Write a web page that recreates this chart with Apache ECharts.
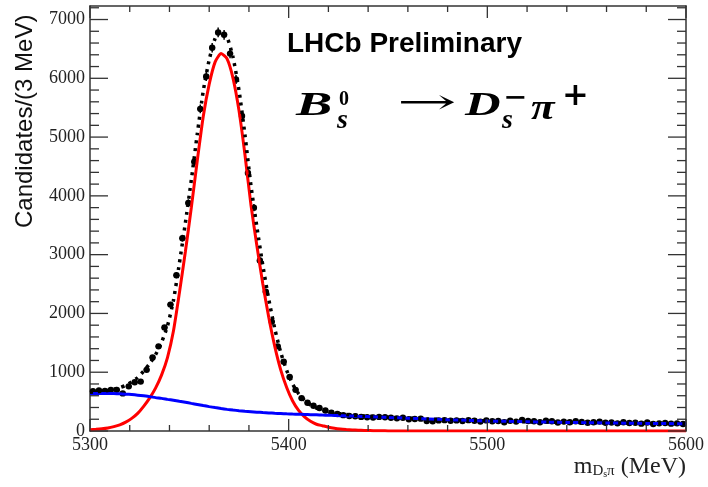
<!DOCTYPE html>
<html>
<head>
<meta charset="utf-8">
<script src="https://cdn.jsdelivr.net/npm/echarts@6/dist/echarts.min.js"></script>
<style>
  html, body { margin: 0; padding: 0; background: #fff; }
  #chart { width: 708px; height: 487px; }
</style>
</head>
<body>
<div id="chart"></div>
<script>
// histogram: 3 MeV bins from 5300 to 5600
var binLow = 5300;
var binWidth = 3;
var counts = [
  675, 690, 680, 700, 700, 640, 760, 830, 840, 1040, 1250, 1440, 1760, 2150, 2650,
  3280, 3880, 4580, 5480, 6030, 6520, 6780, 6740, 6420, 5980, 5360, 4390, 3800,
  2900, 2370, 1860, 1440, 1180, 920, 700, 560, 480, 430, 390, 350, 310, 290, 270, 255, 250, 240, 235, 230,
  240, 235, 225, 215, 225, 200, 205, 210, 170, 165, 180, 185, 175, 180, 170, 185, 175, 160, 180, 165,
  170, 150, 175, 160, 190, 170, 165, 150, 175, 165, 145, 160, 150, 165, 155, 140, 150, 160, 140, 145,
  130, 150, 135, 140, 125, 145, 120, 130, 135, 125, 130, 120
];

// fit curves
var fitX = [
  5300, 5303, 5306, 5309, 5312, 5315, 5318, 5321, 5324, 5327,
  5330, 5333, 5336, 5339, 5342, 5345, 5348, 5351, 5354, 5357,
  5360, 5363, 5366, 5369, 5372, 5375, 5378, 5381, 5384, 5387,
  5390, 5393, 5396, 5399, 5402, 5405, 5408, 5411, 5414, 5417,
  5420, 5423, 5426, 5429, 5432, 5435, 5438, 5441, 5444, 5447,
  5450,
  5460, 5470, 5480, 5490, 5500, 5510, 5520, 5530, 5540, 5550, 5560, 5570, 5580, 5590, 5600
];
var signalFit = [
  20, 28, 38, 52, 75, 105, 150, 215, 300, 420,
  560, 730, 950, 1250, 1700, 2350, 3050, 3800, 4600, 5350,
  5900, 6280, 6420, 6330, 6000, 5450, 4700, 3850, 3150, 2500,
  1930, 1440, 1040, 740, 510, 350, 240, 165, 115, 90,
  65, 47, 34, 25, 18, 13, 9, 7, 5, 3,
  2,
  1, 0, 0, 0, 0, 0, 0, 0, 0, 0, 0, 0, 0, 0, 0
];
var bkgFit = [
  640, 640, 640, 638, 636, 632, 627, 620, 610, 598,
  585, 568, 555, 538, 522, 505, 488, 470, 452, 433,
  415, 398, 382, 368, 356, 346, 337, 329, 321, 314,
  308, 302, 297, 292, 288, 285, 281, 278, 275, 271,
  268, 264, 261, 257, 254, 250, 247, 243, 239, 235,
  231,
  218, 205, 192, 181, 172, 164, 157, 151, 146, 141, 137, 133, 129, 126, 123
];
var totalFit = [
  660, 668, 678, 690, 711, 737, 777, 835, 910, 1018,
  1145, 1298, 1505, 1788, 2222, 2855, 3538, 4270, 5052, 5783,
  6315, 6678, 6802, 6698, 6356, 5796, 5037, 4179, 3471, 2814,
  2238, 1742, 1337, 1032, 798, 635, 521, 443, 390, 361,
  333, 311, 295, 282, 272, 263, 256, 250, 244, 238,
  233,
  219, 205, 192, 181, 172, 164, 157, 151, 146, 141, 137, 133, 129, 126, 123
];

var xMin = 5300, xMax = 5600, xMajor = 100, xMinor = 20;
var yMin = 0, yMax = 7230, yMajor = 1000, yMinor = 200;

var serif = '"Liberation Serif", "Times New Roman", serif';
var sans = '"Liberation Sans", Arial, sans-serif';
var axisColor = '#333';

function pairs(xs, ys) {
  return xs.map(function (x, i) { return [x, ys[i]]; });
}

var points = counts.map(function (n, i) {
  return [binLow + binWidth * (i + 0.5), n, Math.sqrt(n)];
});

// tick positions: [value, length in px]
var xTicks = [], yTicks = [];
for (var v = xMin; v <= xMax; v += xMinor) xTicks.push([v, v % xMajor === 0 ? 12 : 6]);
for (var w = yMin; w <= yMax; w += yMinor) yTicks.push([w, w % yMajor === 0 ? 18 : 9]);

function renderPoint(params, api) {
  var x = api.value(0), y = api.value(1), e = api.value(2);
  var c = api.coord([x, y]);
  var top = api.coord([x, y + e]);
  var bot = api.coord([x, y - e]);
  var l = api.coord([x - binWidth / 2, y]);
  var r = api.coord([x + binWidth / 2, y]);
  return {
    type: 'group',
    children: [
      { type: 'line', shape: { x1: c[0], y1: top[1], x2: c[0], y2: bot[1] }, style: { stroke: '#000', lineWidth: 1.5 } },
      { type: 'line', shape: { x1: l[0], y1: c[1], x2: r[0], y2: c[1] }, style: { stroke: '#000', lineWidth: 1.5 } },
      { type: 'circle', shape: { cx: c[0], cy: c[1], r: 3.2 }, style: { fill: '#000' } }
    ]
  };
}

// inside ticks on all four sides of the frame
var tickStyle = { stroke: axisColor, lineWidth: 1.3 };
function renderXTick(params, api) {
  var len = api.value(1);
  var b = api.coord([api.value(0), yMin]);
  var t = api.coord([api.value(0), yMax]);
  return {
    type: 'group',
    children: [
      { type: 'line', shape: { x1: b[0], y1: b[1], x2: b[0], y2: b[1] - len }, style: tickStyle },
      { type: 'line', shape: { x1: t[0], y1: t[1], x2: t[0], y2: t[1] + len }, style: tickStyle }
    ]
  };
}
function renderYTick(params, api) {
  var len = api.value(1);
  var l = api.coord([xMin, api.value(0)]);
  var r = api.coord([xMax, api.value(0)]);
  return {
    type: 'group',
    children: [
      { type: 'line', shape: { x1: l[0], y1: l[1], x2: l[0] + len, y2: l[1] }, style: tickStyle },
      { type: 'line', shape: { x1: r[0], y1: r[1], x2: r[0] - len, y2: r[1] }, style: tickStyle }
    ]
  };
}

function xAxisStyle(pos, labels) {
  return {
    type: 'value', position: pos, min: xMin, max: xMax, interval: xMajor,
    axisLine: { show: true, onZero: false, lineStyle: { color: axisColor, width: 1.5 } },
    axisTick: { show: false },
    axisLabel: {
      show: labels, fontFamily: serif, fontSize: 18, color: '#222', margin: 5,
      formatter: function (v) { return String(v); }
    },
    splitLine: { show: false }
  };
}
function yAxisStyle(pos, labels) {
  return {
    type: 'value', position: pos, min: yMin, max: yMax, interval: yMajor,
    axisLine: { show: true, onZero: false, lineStyle: { color: axisColor, width: 1.5 } },
    axisTick: { show: false },
    axisLabel: {
      show: labels, showMaxLabel: false, fontFamily: serif, fontSize: 18, color: '#222', margin: 5,
      formatter: function (v) { return String(v); }
    },
    splitLine: { show: false }
  };
}

var myChart = echarts.init(document.getElementById('chart'));
var option = {
  animation: false,
  backgroundColor: '#fff',
  grid: { left: 90, right: 22, top: 6, bottom: 56, outerBoundsMode: 'none' },
  xAxis: [xAxisStyle('bottom', true), xAxisStyle('top', false)],
  yAxis: [yAxisStyle('left', true), yAxisStyle('right', false)],
  graphic: [
    {
      type: 'text', x: 13, y: 228, rotation: Math.PI / 2,
      style: { text: 'Candidates/(3 MeV)', font: '24px ' + sans, fill: '#111', textAlign: 'left', textVerticalAlign: 'top' }
    },
    {
      type: 'text', right: 22, top: 455,
      style: {
        text: '{m|m}{s|D}{ss|s}{s|π}{m| (MeV)}',
        fill: '#222',
        rich: {
          m: { fontFamily: serif, fontSize: 24, verticalAlign: 'bottom' },
          s: { fontFamily: serif, fontSize: 15, padding: [12, 0, 0, 0] },
          ss: { fontFamily: serif, fontSize: 10, padding: [18, 0, 0, 0] }
        }
      }
    },
    {
      type: 'text', x: 287, y: 30,
      style: { text: 'LHCb Preliminary', font: 'bold 28px ' + sans, fill: '#000' }
    },
    // B_s^0 -> D_s^- pi^+
    { type: 'text', x: 296, y: 106, scaleX: 1.6, style: { text: 'B', font: 'italic bold 34px ' + serif, fill: '#000', textVerticalAlign: 'middle' } },
    { type: 'text', x: 339, y: 100, style: { text: '0', font: 'bold 20px ' + serif, fill: '#000', textVerticalAlign: 'middle' } },
    { type: 'text', x: 337, y: 121, style: { text: 's', font: 'italic bold 28px ' + serif, fill: '#000', textVerticalAlign: 'middle' } },
    { type: 'text', x: 397, y: 104, scaleX: 2.1, style: { text: '→', font: '34px "DejaVu Serif", serif', fill: '#000', textVerticalAlign: 'middle' } },
    { type: 'text', x: 465, y: 106, scaleX: 1.45, style: { text: 'D', font: 'italic bold 34px ' + serif, fill: '#000', textVerticalAlign: 'middle' } },
    { type: 'text', x: 503, y: 99, scaleX: 1.2, style: { text: '−', font: 'bold 24px "DejaVu Serif", serif', fill: '#000', textVerticalAlign: 'middle' } },
    { type: 'text', x: 502, y: 121, style: { text: 's', font: 'italic bold 28px ' + serif, fill: '#000', textVerticalAlign: 'middle' } },
    { type: 'text', x: 531, y: 110, scaleX: 1.2, style: { text: 'π', font: 'italic bold 36px ' + serif, fill: '#000', textVerticalAlign: 'middle' } },
    { type: 'text', x: 562, y: 97, style: { text: '+', font: 'bold 32px "DejaVu Serif", serif', fill: '#000', textVerticalAlign: 'middle' } }
  ],
  series: [
    { type: 'custom', name: 'xticks', renderItem: renderXTick, encode: { x: 0 }, data: xTicks, z: 6, silent: true },
    { type: 'custom', name: 'yticks', renderItem: renderYTick, encode: { y: 0 }, data: yTicks, z: 6, silent: true },
    {
      type: 'custom',
      name: 'data',
      renderItem: renderPoint,
      encode: { x: 0, y: 1 },
      data: points,
      z: 2
    },
    {
      type: 'line', name: 'signal', data: pairs(fitX, signalFit),
      showSymbol: false, smooth: 0.2,
      lineStyle: { color: '#ff0000', width: 3 }, z: 3
    },
    {
      type: 'line', name: 'background', data: pairs(fitX, bkgFit),
      showSymbol: false, smooth: 0.2,
      lineStyle: { color: '#0000ff', width: 3 }, z: 4
    },
    {
      type: 'line', name: 'total', data: pairs(fitX, totalFit),
      showSymbol: false, smooth: 0.2,
      lineStyle: { color: '#000', width: 3.5, type: [3, 5], cap: 'butt' }, z: 5
    }
  ]
};
myChart.setOption(option);
window.addEventListener('resize', myChart.resize);
</script>
</body>
</html>
